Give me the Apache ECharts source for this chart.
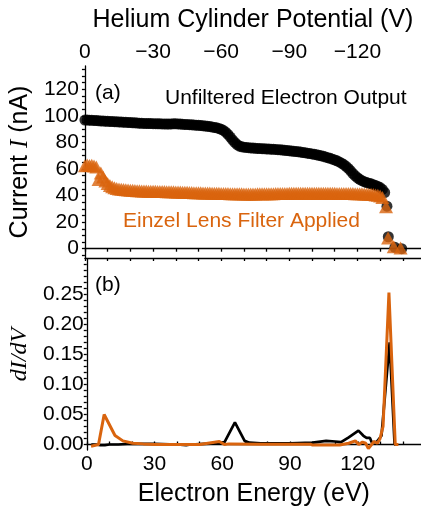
<!DOCTYPE html>
<html>
<head>
<meta charset="utf-8">
<script src="https://cdn.jsdelivr.net/npm/echarts@6/dist/echarts.min.js"></script>
<style>
  html, body { margin: 0; padding: 0; background: #fff; }
  #chart { width: 421px; height: 510px; }
</style>
</head>
<body>
<div id="chart"></div>
<script>
// (a) 电流 - 能量
var curE = [
  0,1,2,3,4,5,6,7,8,9,10,11,12,13,14,15,16,17,18,19,
  20,21,22,23,24,25,26,27,28,29,30,31,32,33,34,35,36,37,38,39,
  40,41,42,43,44,45,46,47,48,49,50,51,52,53,54,55,56,57,58,59,
  60,61,62,63,64,65,66,67,68,69,70,71,72,73,74,75,76,77,78,79,
  80,81,82,83,84,85,86,87,88,89,90,91,92,93,94,95,96,97,98,99,
  100,101,102,103,104,105,106,107,108,109,110,111,112,113,114,115,116,117,118,119,
  120,121,122,123,124,125,126,127,128,129,130,131
];
var unfiltered = [
  96.8,96.8,96.7,96.6,96.5,96.4,96.3,96.2,96.1,96.0,
  95.9,95.8,95.7,95.6,95.5,95.4,95.3,95.2,95.1,95.0,
  94.9,94.8,94.7,94.6,94.5,94.4,94.3,94.3,94.2,94.2,
  94.1,94.1,94.0,94.0,93.9,93.9,93.8,93.8,93.9,94.0,
  94.0,93.9,93.8,93.6,93.5,93.4,93.3,93.2,93.1,93.0,
  92.9,92.7,92.5,92.3,92.1,91.9,91.6,91.3,91.0,90.5,
  89.9,89.0,87.7,86.0,84.0,81.9,80.0,78.4,77.3,76.7,
  76.4,76.2,76.0,75.8,75.7,75.6,75.5,75.4,75.3,75.2,
  75.1,75.0,74.9,74.8,74.7,74.5,74.4,74.2,74.1,73.9,
  73.7,73.5,73.3,73.1,72.9,72.7,72.4,72.2,71.9,71.6,
  71.3,71.0,70.7,70.3,69.9,69.5,69.0,68.5,68.0,67.4,
  66.8,66.1,65.3,64.4,63.3,62.0,60.4,58.6,56.6,54.9,
  53.4,52.2,51.2,50.4,49.8,49.3,48.8,48.2,47.6,46.9,
  46.0,44.6
];
var unfilteredTailE = [132, 133, 133.6, 136.5, 139.5];
var unfilteredTail  = [42.3, 32, 9, 1, 0];

var filtered = [
  62.5,63.0,62.6,62.8,62.2,61.5,52.0,57.0,54.0,51.0,
  49.0,47.6,46.6,45.9,45.4,45.0,44.7,44.5,44.3,44.1,
  44.0,43.9,43.8,43.7,43.6,43.5,43.4,43.4,43.3,43.3,
  43.2,43.2,43.1,43.1,43.0,43.0,42.9,42.9,42.8,42.8,
  42.7,42.7,42.6,42.5,42.5,42.4,42.3,42.3,42.2,42.2,
  42.1,42.1,42.0,42.0,41.9,41.9,41.8,41.8,41.7,41.7,
  41.6,41.6,41.5,41.5,41.4,41.4,41.4,41.3,41.3,41.3,
  41.2,41.2,41.2,41.2,41.2,41.2,41.3,41.3,41.3,41.3,
  41.3,41.4,41.4,41.4,41.5,41.5,41.5,41.6,41.6,41.6,
  41.7,41.7,41.7,41.7,41.8,41.8,41.8,41.8,41.8,41.8,
  41.8,41.8,41.8,41.8,41.8,41.7,41.7,41.7,41.7,41.7,
  41.7,41.6,41.6,41.6,41.6,41.6,41.5,41.5,41.5,41.4,
  41.4,41.3,41.3,41.2,41.1,41.0,40.9,40.7,40.5,40.2,
  39.6,38.5
];
var filteredTailE = [132.6, 133.5, 136, 139];
var filteredTail  = [31.5, 8, 1.5, 0.5];

// (b) dI/dV
var dUnfE = [2,4,6,8,10,14,18,22,30,40,44,46,52,58,61,65.6,69.9,72,77,90,100,106,110,112.6,116,120.3,122.5,123.9,125.4,126.1,128.3,130.5,134.1,136.3,137.1];
var dUnf  = [0,0,-0.001,-0.001,0,0,0.001,0.001,0.001,0,-0.001,0,0.001,0.002,0.004,0.037,0.006,0.003,0.002,0.002,0.003,0.006,0.005,0.004,0.012,0.023,0.0145,0.011,0.011,0.004,0.004,0.0145,0.17,0,0];
var dFilE = [1.9,5.2,7.7,12.5,16,20.4,25,30,40,50,58.7,61,63,77,99,100,112,116,118.9,120.4,122.1,123.5,124.7,127.2,128.7,129.8,131.2,133.8,136.6,138];
var dFil  = [-0.003,0,0.05,0.015,0.006,0.002,0.001,0,0,0,0.005,0,0.001,0.0005,0.0005,-0.001,-0.001,0.002,0.006,0,0.004,0.002,-0.007,0.005,0.002,0.009,0.03,0.253,0,0];

var xLabels = [0, 30, 60, 90, 120];
var xTicks = [0, 10, 20, 30, 40, 50, 60, 70, 80, 90, 100, 110, 120, 130, 140];
var yLabelsA = [0, 20, 40, 60, 80, 100, 120];
var yLabelsB = [0, 0.05, 0.10, 0.15, 0.20, 0.25];

var yTicksA = [];
for (var t = -5; t <= 135; t += 5) yTicksA.push(t);
var yTicksB = [];
for (var k = 0; k <= 30; k++) yTicksB.push(k / 100);

function pairs(xs, ys) {
    var out = [];
    for (var i = 0; i < ys.length; i++) out.push([xs[i], ys[i]]);
    return out;
}

var ORANGE = '#d9640e';
var FONT = 'Liberation Sans';
var lineStyle = { color: '#000', width: 1.3 };

var myChart = echarts.init(document.getElementById('chart'));
var option = {
    animation: false,
    backgroundColor: '#fff',
    textStyle: { fontFamily: FONT },
    grid: [
        { left: 84, right: 0, top: 66, height: 192 },
        { left: 84, right: 0, top: 259, height: 191 }
    ],
    xAxis: [
        {
            gridIndex: 0, type: 'value', position: 'top', min: 0, max: 148,
            name: 'Helium Cylinder Potential (V)', nameLocation: 'middle', nameGap: 33,
            nameTextStyle: { fontSize: 25, color: '#000', fontFamily: FONT },
            axisLine: { lineStyle: lineStyle },
            axisTick: { inside: true, length: 3, customValues: xTicks, lineStyle: lineStyle },
            axisLabel: {
                customValues: xLabels, fontSize: 21, color: '#000', margin: 3,
                formatter: function (v) { return v === 0 ? '0' : '\u2212' + v; }
            },
            splitLine: { show: false }
        },
        {
            gridIndex: 0, type: 'value', position: 'bottom', min: 0, max: 148,
            axisLine: { lineStyle: lineStyle },
            axisTick: { inside: false, length: 3, customValues: xTicks, lineStyle: lineStyle },
            axisLabel: { show: false },
            splitLine: { show: false }
        },
        {
            gridIndex: 1, type: 'value', position: 'bottom', min: 0, max: 148,
            name: 'Electron Energy (eV)', nameLocation: 'middle', nameGap: 32,
            nameTextStyle: { fontSize: 25, color: '#000', fontFamily: FONT },
            axisLine: { lineStyle: lineStyle },
            axisTick: { inside: true, length: 3, customValues: xTicks, lineStyle: lineStyle },
            axisLabel: { customValues: xLabels, fontSize: 21, color: '#000', margin: 4 },
            splitLine: { show: false }
        }
    ],
    yAxis: [
        {
            gridIndex: 0, type: 'value', min: -7, max: 137.5,
            name: 'Current {i|I} (nA)', nameLocation: 'middle', nameGap: 46,
            nameTextStyle: {
                fontSize: 25, color: '#000', fontFamily: FONT,
                rich: { i: { fontSize: 25, fontStyle: 'italic', fontFamily: 'Liberation Serif', color: '#000' } }
            },
            axisLine: { lineStyle: lineStyle },
            axisTick: { inside: false, length: 3, customValues: yTicksA, lineStyle: lineStyle },
            axisLabel: { customValues: yLabelsA, fontSize: 21, color: '#000', margin: 6 },
            splitLine: { show: false }
        },
        {
            gridIndex: 1, type: 'value', min: -0.0092, max: 0.309,
            name: 'dI/dV', nameLocation: 'middle', nameGap: 47,
            nameTextStyle: { fontSize: 24, color: '#000', fontFamily: 'Liberation Serif', fontStyle: 'italic' },
            axisLine: { lineStyle: lineStyle },
            axisTick: { inside: false, length: 3, customValues: yTicksB, lineStyle: lineStyle },
            axisLabel: {
                customValues: yLabelsB, fontSize: 21, color: '#000', margin: 3,
                formatter: function (v) { return v.toFixed(2); }
            },
            splitLine: { show: false }
        }
    ],
    graphic: [
        { type: 'text', left: 95, top: 83, style: { text: '(a)', font: '21px "Liberation Sans"', fill: '#000' } },
        { type: 'text', left: 165, top: 88, style: { text: 'Unfiltered Electron Output', font: '21px "Liberation Sans"', fill: '#000' } },
        { type: 'text', left: 123, top: 211, style: { text: 'Einzel Lens Filter Applied', font: '21px "Liberation Sans"', fill: ORANGE } },
        { type: 'text', left: 95, top: 275, style: { text: '(b)', font: '21px "Liberation Sans"', fill: '#000' } }
    ],
    series: [
        {
            type: 'scatter', xAxisIndex: 0, yAxisIndex: 0,
            symbol: 'circle', symbolSize: 11,
            itemStyle: { color: '#000' },
            data: pairs(curE, unfiltered).concat(pairs(unfilteredTailE, unfilteredTail))
        },
        {
            type: 'scatter', xAxisIndex: 0, yAxisIndex: 0,
            symbol: 'triangle', symbolSize: [14, 13],
            itemStyle: { color: ORANGE },
            data: pairs(curE, filtered).concat(pairs(filteredTailE, filteredTail))
        },
        {
            type: 'line', xAxisIndex: 2, yAxisIndex: 1,
            showSymbol: false, lineStyle: { color: '#000', width: 2.7 },
            data: pairs(dUnfE, dUnf)
        },
        {
            type: 'line', xAxisIndex: 2, yAxisIndex: 1,
            showSymbol: false, lineStyle: { color: ORANGE, width: 3 },
            data: pairs(dFilE, dFil)
        }
    ]
};
myChart.setOption(option);
</script>
</body>
</html>
